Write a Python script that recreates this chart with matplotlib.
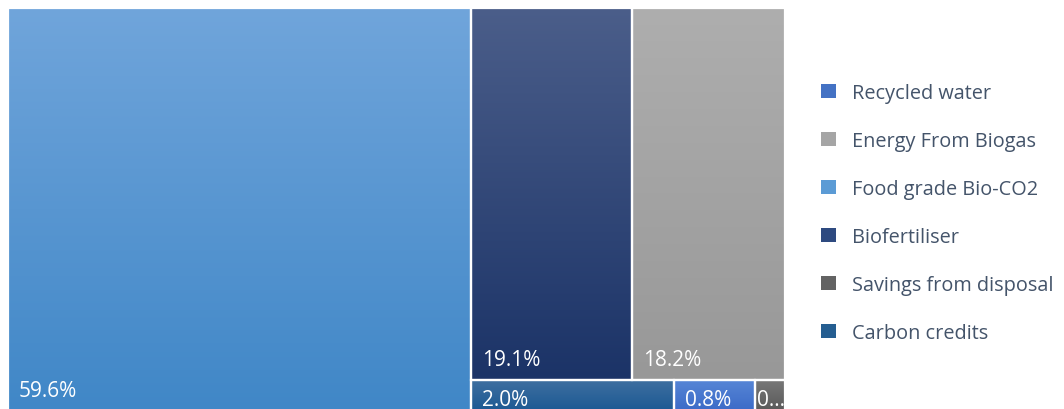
import numpy as np
import matplotlib
matplotlib.use("Agg")
import matplotlib.pyplot as plt
from matplotlib.patches import Rectangle, Patch
from matplotlib.colors import LinearSegmentedColormap
from matplotlib import transforms

plt.rcParams['font.family'] = ['Open Sans', 'DejaVu Sans']

# value share of each revenue stream (%)
categories = ["Food grade Bio-CO2", "Biofertiliser", "Energy From Biogas",
              "Carbon credits", "Recycled water", "Savings from disposal"]
values = [59.6, 19.1, 18.2, 2.0, 0.8, 0.3]

# fill colours, gradient top -> bottom
top_colors = ["#70A5DB", "#4B5E8A", "#AEAEAE", "#3E6FA0", "#5786D6", "#787878"]
bottom_colors = ["#4087C7", "#1B3367", "#989898", "#1C5993", "#3B6AC7", "#595959"]
legend_colors = {"Food grade Bio-CO2": "#5B9BD5", "Biofertiliser": "#2E4A80",
                 "Energy From Biogas": "#A5A5A5", "Carbon credits": "#255E91",
                 "Recycled water": "#4472C4", "Savings from disposal": "#636363"}
legend_order = ["Recycled water", "Energy From Biogas", "Food grade Bio-CO2",
                "Biofertiliser", "Savings from disposal", "Carbon credits"]

# first item gets its own column, the rest are stacked in rows
first_column = [0]
rows = [[1, 2], [3, 4, 5]]


def layout(vals):
    total = sum(vals)
    rects = {}
    w0 = sum(vals[i] for i in first_column) / total
    rects[0] = (0.0, 0.0, w0, 1.0)
    rest = total - sum(vals[i] for i in first_column)
    y = 1.0
    for row in rows:
        rsum = sum(vals[i] for i in row)
        h = rsum / rest
        y -= h
        x = w0
        for i in row:
            w = (1 - w0) * vals[i] / rsum
            rects[i] = (x, y, w, h)
            x += w
    return rects


fig = plt.figure(figsize=(10.64, 4.10), dpi=100)
ax = fig.add_axes([8 / 1064, -2 / 410, 777 / 1064, 403 / 410])
ax.set_axis_off()

grad = np.linspace(0, 1, 256).reshape(-1, 1)
rects = layout(values)
for i, (x, y, w, h) in rects.items():
    cmap = LinearSegmentedColormap.from_list("g%d" % i, [top_colors[i], bottom_colors[i]])
    ax.imshow(grad, cmap=cmap, extent=(x, x + w, y, y + h), aspect="auto",
              origin="upper", interpolation="bilinear")
    # white separators; left unclipped so the outer edge covers the last image column
    box = Rectangle((x, y), w, h, facecolor="none", edgecolor="white", lw=1.6,
                    zorder=3, clip_on=False)
    ax.add_patch(box)

    w_px = w * 777
    h_px = h * 403
    label = "%.1f%%" % values[i]
    pad_x = 11
    if w_px < 45:
        label = label[0] + "..."
        pad_x = 2
    if h_px > 50:
        tr = transforms.offset_copy(ax.transData, fig, pad_x, 15, units="dots")
        ty = y
    else:
        tr = transforms.offset_copy(ax.transData, fig, pad_x, -25, units="dots")
        ty = y + h
    t = ax.text(x, ty, label, transform=tr, color="white", fontsize=15,
                ha="left", va="baseline", zorder=4)
    clip = Rectangle((x, y), w, h, transform=ax.transData, facecolor="none")
    t.set_clip_path(clip)

ax.set_xlim(0, 1)
ax.set_ylim(0, 1)

handles = [Patch(facecolor=legend_colors[c], edgecolor="none") for c in legend_order]
fig.legend(handles, legend_order, loc="upper left",
           bbox_to_anchor=(821 / 1064, 1 - 84 / 410), frameon=False,
           fontsize=14.3, labelcolor="#44546A", handlelength=0.75, handleheight=0.75,
           handletextpad=0.8, labelspacing=1.41, borderpad=0, borderaxespad=0)

fig.savefig("out.png", dpi=100)
